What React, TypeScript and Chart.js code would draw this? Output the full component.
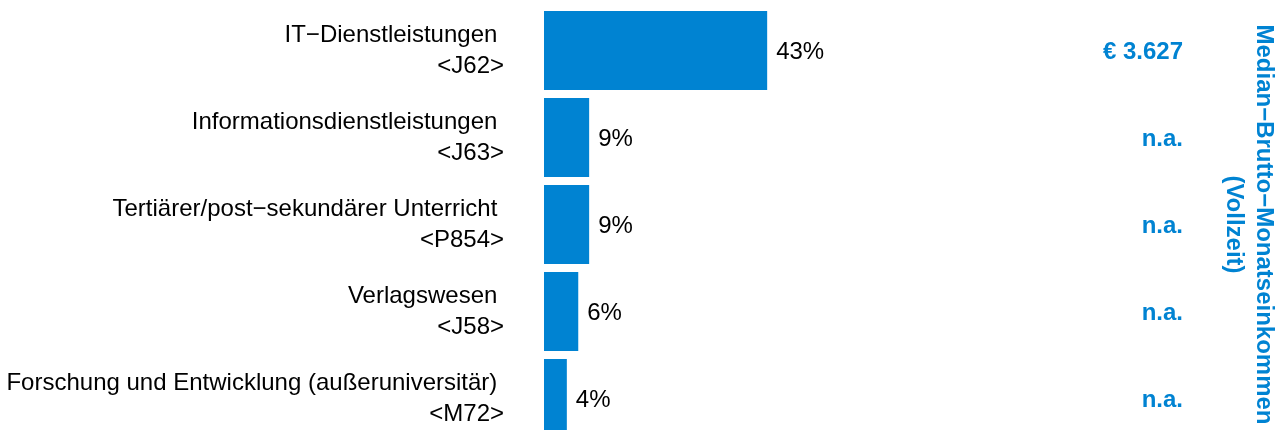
import React, { useEffect, useRef } from "react";
import { Chart, registerables } from "chart.js";

Chart.register(...registerables);

const industries = [
  "IT−Dienstleistungen ",
  "Informationsdienstleistungen ",
  "Tertiärer/post−sekundärer Unterricht ",
  "Verlagswesen ",
  "Forschung und Entwicklung (außeruniversitär) ",
];
const industryCodes = ["<J62>", "<J63>", "<P854>", "<J58>", "<M72>"];
const shares = [43, 8.7, 8.7, 6.6, 4.4];
const shareLabels = ["43%", "9%", "9%", "6%", "4%"];
const incomeLabels = ["€ 3.627", "n.a.", "n.a.", "n.a.", "n.a."];
const incomeTitle = ["Median−Brutto−Monatseinkommen", "(Vollzeit)"];

const BLUE = "#0083D2";
const FONT = "'Liberation Sans', Arial, Helvetica, sans-serif";

const annotatePlugin = {
  id: "annotate",
  afterDatasetsDraw(chart: any) {
    const ctx = chart.ctx;
    const meta = chart.getDatasetMeta(0);
    const area = chart.chartArea;
    ctx.save();
    ctx.textBaseline = "middle";
    meta.data.forEach((bar: any, i: number) => {
      ctx.font = `24px ${FONT}`;
      ctx.fillStyle = "#000000";
      ctx.textAlign = "left";
      ctx.fillText(shareLabels[i], bar.x + 9, bar.y + 2);
      ctx.font = `bold 24px ${FONT}`;
      ctx.fillStyle = BLUE;
      ctx.textAlign = "right";
      ctx.fillText(incomeLabels[i], chart.width - 99, bar.y + 2);
    });
    // rotated title, centred on the plot area
    const cx = chart.width - 33;
    const cy = (area.top + area.bottom) / 2;
    ctx.translate(cx, cy);
    ctx.rotate(Math.PI / 2);
    ctx.font = `bold 24px ${FONT}`;
    ctx.fillStyle = BLUE;
    ctx.textAlign = "center";
    ctx.fillText(incomeTitle[0], 0, -15);
    ctx.fillText(incomeTitle[1], 0, 15);
    ctx.restore();
  },
};

export default function App() {
  const ref = useRef<HTMLCanvasElement | null>(null);

  useEffect(() => {
    document.body.style.margin = "0";
    const canvas = ref.current;
    if (!canvas) return;
    const chart = new Chart(canvas, {
      type: "bar",
      data: {
        labels: industries.map((n, i) => [n, industryCodes[i]]),
        datasets: [
          {
            data: shares,
            backgroundColor: BLUE,
            borderWidth: 0,
            categoryPercentage: 1,
            barPercentage: 0.91,
          },
        ],
      },
      options: {
        indexAxis: "y",
        responsive: false,
        animation: false,
        events: [],
        layout: { padding: { left: 0, right: 219, top: 7, bottom: 5 } },
        plugins: {
          legend: { display: false },
          tooltip: { enabled: false },
          title: { display: false },
        },
        scales: {
          x: {
            display: false,
            min: 0,
            max: 100,
          },
          y: {
            grid: { display: false, drawTicks: false },
            border: { display: false },
            ticks: {
              autoSkip: false,
              padding: 40,
              color: "#000000",
              font: { family: FONT, size: 24, lineHeight: 1.3 },
            },
            afterFit: (scale: any) => {
              scale.width = 544;
              scale.paddingTop = 0;
              scale.paddingBottom = 0;
            },
          },
        },
      },
      plugins: [annotatePlugin],
    });
    return () => chart.destroy();
  }, []);

  return (
    <div style={{ width: 1282, height: 430, overflow: "hidden" }}>
      <canvas ref={ref} width={1282} height={447} style={{ display: "block" }} />
    </div>
  );
}
